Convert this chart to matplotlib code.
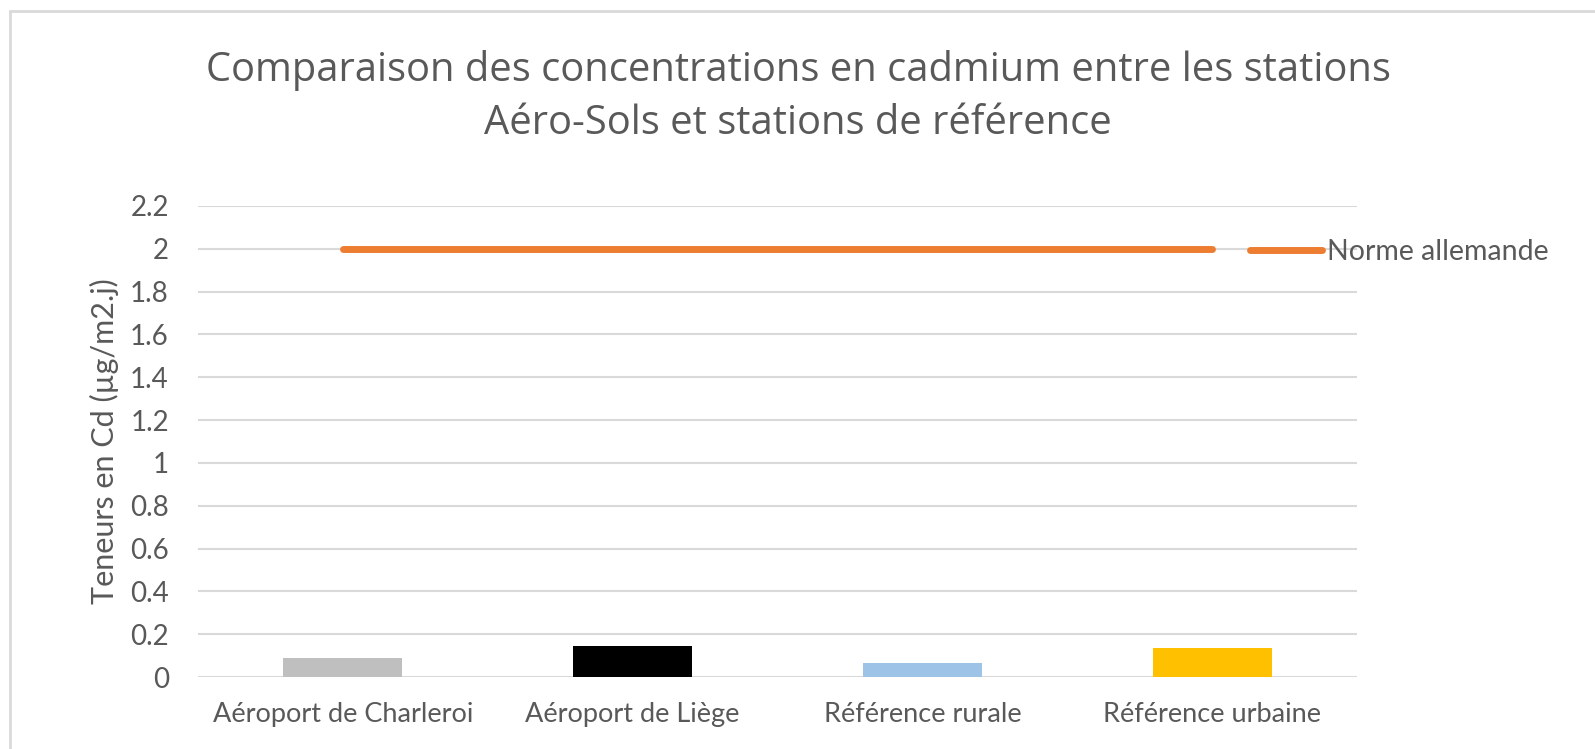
import matplotlib
matplotlib.use("Agg")
import matplotlib.pyplot as plt
from matplotlib.patches import Rectangle

stations = ["Aéroport de Charleroi", "Aéroport de Liège", "Référence rurale", "Référence urbaine"]
cadmium = [0.088, 0.145, 0.066, 0.135]
bar_colors = ["#BFBFBF", "#000000", "#9DC3E6", "#FFC000"]
norme = [2, 2, 2, 2]
yticks = [0, 0.2, 0.4, 0.6, 0.8, 1, 1.2, 1.4, 1.6, 1.8, 2, 2.2]
ytick_labels = ["0", "0.2", "0.4", "0.6", "0.8", "1", "1.2", "1.4", "1.6", "1.8", "2", "2.2"]

txt = "#595959"
plt.rcParams["font.family"] = ["Lato", "DejaVu Sans"]

fig = plt.figure(figsize=(15.95, 7.49), dpi=100)
ax = fig.add_axes([198 / 1595, 72 / 749, 1159 / 1595, 471 / 749])

# outer chart frame (cut off at right and bottom like the screenshot)
fig.patches.append(Rectangle((10 / 1595, -0.1), 1.2, 1 - 11 / 749 + 0.1,
                             transform=fig.transFigure, fill=False,
                             edgecolor="#D9D9D9", linewidth=2))

x = list(range(len(stations)))
ax.bar(x, cadmium, width=0.41, color=bar_colors, zorder=2)
line, = ax.plot(x, norme, color="#ED7D31", linewidth=5, solid_capstyle="round",
                zorder=3, label="Norme allemande")

ax.set_xlim(-0.5, 3.5)
ax.set_ylim(0, 2.2)
ax.set_yticks(yticks)
ax.set_yticklabels(ytick_labels)
ax.set_xticks(x)
ax.set_xticklabels(stations)
ax.yaxis.grid(True, color="#D9D9D9", linewidth=1.5, zorder=0)
ax.set_axisbelow(True)
for s in ax.spines.values():
    s.set_visible(False)
ax.tick_params(axis="y", length=0, labelsize=20, colors=txt, pad=21)
ax.tick_params(axis="x", length=0, labelsize=19.5, colors=txt, pad=18)

ax.set_ylabel("Teneurs en Cd (µg/m2.j)", fontsize=22, color=txt)
ax.yaxis.set_label_coords(-0.068, 0.5)

fig.text(798 / 1595, 1 - 97 / 749,
         "Comparaison des concentrations en cadmium entre les stations\nAéro-Sols et stations de référence",
         ha="center", va="center", fontsize=28.7, color=txt, linespacing=1.4,
         family=["Open Sans", "DejaVu Sans"])

leg = fig.legend(handles=[line], loc="center left",
                 bbox_to_anchor=(1250 / 1595, 1 - 252 / 749),
                 frameon=False, fontsize=20.5, handlelength=2.53, handletextpad=0.18,
                 borderpad=0, borderaxespad=0)
for t in leg.get_texts():
    t.set_color(txt)

fig.savefig("out.png", dpi=100)
